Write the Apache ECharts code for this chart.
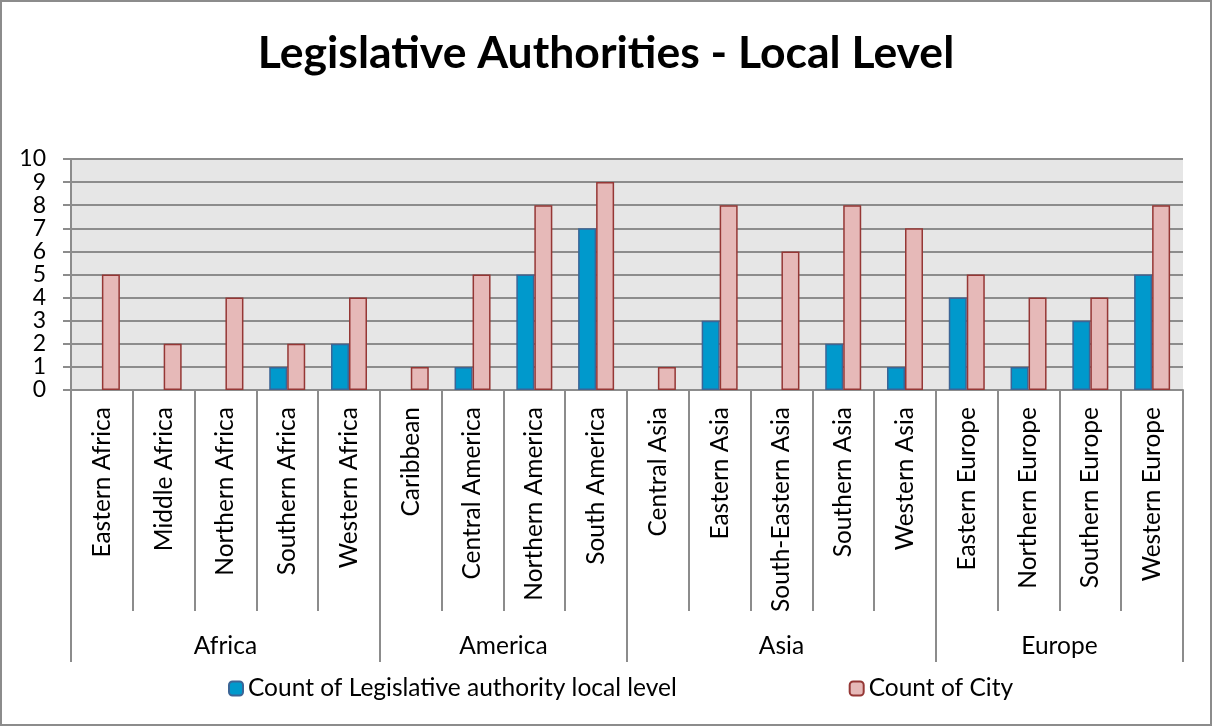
<!DOCTYPE html>
<html>
<head>
<meta charset="utf-8">
<script src="https://cdn.jsdelivr.net/npm/echarts@6/dist/echarts.min.js"></script>
<style>
  html, body { margin: 0; padding: 0; background: #fff; }
  #wrap { position: relative; width: 1212px; height: 726px; }
  #chart { width: 1212px; height: 726px; }
  #frame {
    position: absolute; left: 0; top: 0; width: 1212px; height: 726px;
    box-sizing: border-box; border: 2px solid #8c8c8c; pointer-events: none;
  }
</style>
</head>
<body>
<div id="wrap">
  <div id="chart"></div>
  <div id="frame"></div>
</div>
<script>
const regions = [
  "Eastern Africa", "Middle Africa", "Northern Africa", "Southern Africa", "Western Africa",
  "Caribbean", "Central America", "Northern America", "South America",
  "Central Asia", "Eastern Asia", "South-Eastern Asia", "Southern Asia", "Western Asia",
  "Eastern Europe", "Northern Europe", "Southern Europe", "Western Europe",
];
const groups = ["Africa", "America", "Asia", "Europe"];
const groupSizes = [5, 4, 5, 4];
const legislativeCount = [0, 0, 0, 1, 2, 0, 1, 5, 7, 0, 3, 0, 2, 1, 4, 1, 3, 5];
const cityCount = [5, 2, 4, 2, 4, 1, 5, 8, 9, 1, 8, 6, 8, 7, 5, 4, 4, 8];
const yTicks = [0, 1, 2, 3, 4, 5, 6, 7, 8, 9, 10];

const lineColor = "#8c8c8c";
const font = "Lato, 'Noto Sans', sans-serif";
const labelSize = 24.5;

// the group row is a second axis split in half-categories,
// so every group edge and centre falls on a point
function groupAxisPoints() {
  const edges = [0];
  const centres = {};
  let start = 0;
  groupSizes.forEach((size, i) => {
    centres[start + size] = groups[i];
    start += size * 2;
    edges.push(start);
  });
  const points = [];
  for (let i = 0; i <= regions.length * 2; i++) points.push(String(i));
  return { points, edges, centres };
}

// excel draws nothing for a zero bar, so drop the outline there
function barData(values) {
  return values.map((v) => (v === 0 ? { value: v, itemStyle: { borderWidth: 0 } } : v));
}

document.addEventListener("DOMContentLoaded", () => {
  const chart = echarts.init(document.querySelector("#chart"));
  const { points, edges, centres } = groupAxisPoints();

  chart.setOption({
    animation: false,
    textStyle: { fontFamily: font, color: "#000" },
    title: {
      text: "Legislative Authorities - Local Level",
      left: "center",
      top: 26,
      textStyle: { fontFamily: font, fontSize: 44.5, fontWeight: "bold", color: "#000" },
    },
    legend: {
      bottom: 20,
      left: 223,
      itemGap: 172,
      itemWidth: 14,
      itemHeight: 14,
      textStyle: { fontFamily: font, fontSize: labelSize, color: "#000" },
      data: ["Count of Legislative authority local level", "Count of City"],
    },
    grid: {
      left: 71,
      right: 29,
      top: 159,
      bottom: 336,
      show: true,
      backgroundColor: "#e6e6e6",
      borderWidth: 0,
      containLabel: false,
    },
    xAxis: [
      {
        type: "category",
        data: regions,
        position: "bottom",
        boundaryGap: true,
        axisLine: { show: true, lineStyle: { color: lineColor, width: 2 } },
        axisTick: { show: true, length: 221, lineStyle: { color: lineColor, width: 2 } },
        axisLabel: {
          rotate: 90,
          margin: 17,
          interval: 0,
          fontFamily: font,
          fontSize: labelSize,
          color: "#000",
        },
        splitLine: { show: false },
      },
      {
        type: "category",
        data: points,
        position: "bottom",
        boundaryGap: false,
        axisLine: { show: false },
        axisTick: {
          show: true,
          length: 272,
          interval: (index) => edges.includes(index),
          lineStyle: { color: lineColor, width: 2 },
        },
        axisLabel: {
          margin: 244,
          interval: (index) => centres[index] !== undefined,
          formatter: (value) => centres[+value] || "",
          fontFamily: font,
          fontSize: labelSize,
          color: "#000",
        },
        splitLine: { show: false },
      },
    ],
    yAxis: {
      type: "value",
      min: yTicks[0],
      max: yTicks[yTicks.length - 1],
      interval: 1,
      axisLine: { show: true, lineStyle: { color: lineColor, width: 2 } },
      axisTick: { show: true, length: 8, lineStyle: { color: lineColor, width: 2 } },
      axisLabel: {
        margin: 25,
        showMinLabel: true,
        showMaxLabel: true,
        hideOverlap: false,
        fontFamily: font,
        fontSize: 23,
        color: "#000",
      },
      splitLine: { show: true, lineStyle: { color: lineColor, width: 2 } },
    },
    series: [
      {
        name: "Count of Legislative authority local level",
        type: "bar",
        xAxisIndex: 0,
        data: barData(legislativeCount),
        barWidth: 18,
        barGap: "0%",
        itemStyle: { color: "#0099cc", borderColor: "#3c6596", borderWidth: 1.5 },
      },
      {
        name: "Count of City",
        type: "bar",
        xAxisIndex: 0,
        data: barData(cityCount),
        barWidth: 18,
        barGap: "0%",
        itemStyle: { color: "#e6b9b8", borderColor: "#953735", borderWidth: 1.5 },
      },
    ],
  });
});
</script>
</body>
</html>
